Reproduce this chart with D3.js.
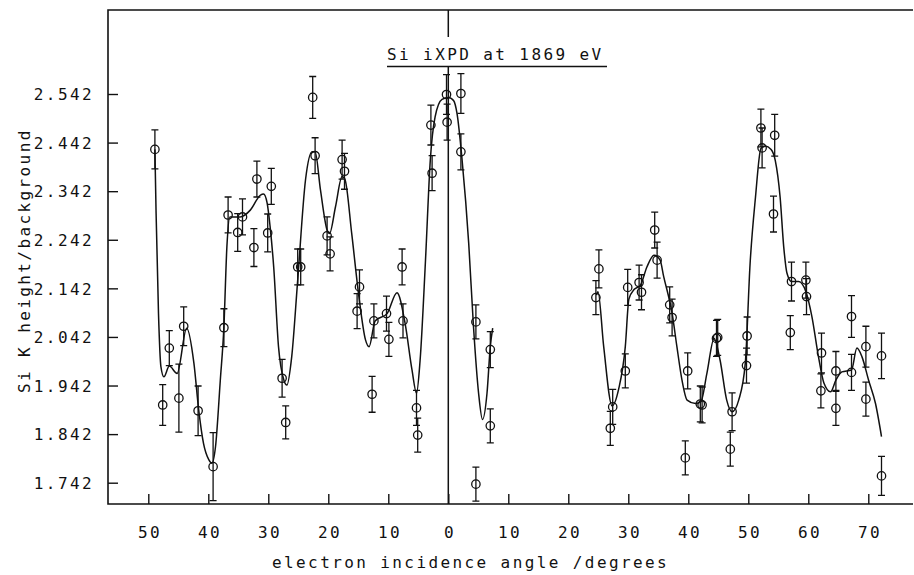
<!DOCTYPE html>
<html>
<head>
<meta charset="utf-8">
<script src="https://cdn.jsdelivr.net/npm/d3@7"></script>
<style>
body { margin: 0; background: #fff; }
svg { display: block; }
text { font-family: "DejaVu Sans Mono", monospace; font-size: 16px; letter-spacing: 2.4px; fill: #111; }
</style>
</head>
<body>
<svg id="chart" width="914" height="575"></svg>
<script>
// angles are signed: left branch negative, labels show absolute value
var pointAngle = [-48.9, -47.6, -46.5, -44.9, -44.1, -41.7, -39.2, -37.4, -36.7, -35.1, -34.3, -32.4, -31.9, -30.1, -29.5,
    -27.7, -27.1, -25.1, -24.6, -22.6, -22.2, -20.2, -19.7, -17.7, -17.3, -15.2, -14.8, -12.7, -12.4, -10.3, -9.9,
    -7.7, -7.55, -5.3, -5.1, -2.9, -2.7, -0.3, -0.2, 2.1, 2.1, 4.6, 4.6, 7.0, 7.0,
    24.6, 25.1, 27.0, 27.4, 29.5, 29.9, 31.8, 32.2, 34.4, 34.8, 36.9, 37.3, 39.5, 39.9, 42.0, 42.3, 44.7, 44.9,
    47.0, 47.3, 49.7, 49.8, 52.1, 52.3, 54.2, 54.4, 57.0, 57.2, 59.6, 59.7, 62.1, 62.2, 64.6, 64.6, 67.2, 67.2,
    69.6, 69.6, 72.2, 72.2];
var pointValue = [2.428, 1.902, 2.019, 1.916, 2.064, 1.890, 1.775, 2.061, 2.293, 2.257, 2.289, 2.226, 2.367, 2.256, 2.352,
    1.957, 1.866, 2.186, 2.186, 2.535, 2.415, 2.250, 2.213, 2.407, 2.383, 2.095, 2.145, 1.924, 2.075, 2.090, 2.037,
    2.186, 2.075, 1.896, 1.840, 2.478, 2.379, 2.541, 2.484, 2.543, 2.423, 2.073, 1.739, 2.016, 1.859,
    2.123, 2.182, 1.854, 1.898, 1.972, 2.144, 2.154, 2.134, 2.262, 2.200, 2.108, 2.082, 1.793, 1.972, 1.904, 1.902, 2.039, 2.041,
    1.811, 1.888, 1.983, 2.044, 2.472, 2.431, 2.295, 2.457, 2.051, 2.156, 2.159, 2.125, 1.931, 2.009, 1.972, 1.895, 2.084, 1.969,
    2.022, 1.914, 2.003, 1.756];
var pointError = [0.040, 0.042, 0.036, 0.070, 0.040, 0.051, 0.070, 0.039, 0.037, 0.039, 0.037, 0.039, 0.037, 0.039, 0.037,
    0.039, 0.034, 0.037, 0.037, 0.043, 0.037, 0.039, 0.035, 0.040, 0.037, 0.036, 0.035, 0.037, 0.035, 0.036, 0.035,
    0.037, 0.035, 0.036, 0.035, 0.041, 0.036, 0.041, 0.037, 0.041, 0.037, 0.035, 0.035, 0.037, 0.035,
    0.035, 0.039, 0.035, 0.036, 0.035, 0.037, 0.036, 0.036, 0.037, 0.037, 0.037, 0.038, 0.035, 0.037, 0.037, 0.037, 0.037, 0.037,
    0.035, 0.039, 0.036, 0.039, 0.039, 0.041, 0.037, 0.043, 0.035, 0.040, 0.037, 0.037, 0.035, 0.041, 0.040, 0.035, 0.043, 0.037,
    0.042, 0.035, 0.047, 0.040];

// fitted curve, two pieces
var fitLeftAngle = [-48.9, -48.7, -48.3, -47.9, -47.4, -46.5, -45.2, -43.6, -42.4, -41.6, -40.8, -39.9, -39.4, -38.8, -38.0,
    -37.4, -36.9, -36.4, -34.7, -33.0, -31.3, -30.8, -30.2, -29.7, -29.1, -28.3, -27.4, -26.9, -26.1, -25.1, -23.8,
    -22.7, -22.2, -21.3, -20.2, -19.8, -18.8, -17.7, -17.2, -16.1, -14.9, -13.8, -13.2, -12.2, -10.2, -8.55, -7.2,
    -6.05, -5.3, -4.7, -3.8, -3.0, -2.2, -1.05, 0.05, 0.9, 1.45, 2.3, 3.4, 4.2, 5.05, 5.7, 6.45, 7.0, 7.4];
var fitLeftValue = [2.428, 2.296, 2.090, 1.981, 1.960, 1.982, 1.967, 2.060, 1.988, 1.892, 1.823, 1.789, 1.782, 1.816, 1.953,
    2.063, 2.228, 2.289, 2.289, 2.303, 2.334, 2.336, 2.318, 2.269, 2.186, 2.022, 1.953, 1.943, 2.001, 2.159, 2.365,
    2.423, 2.423, 2.344, 2.262, 2.255, 2.310, 2.372, 2.365, 2.255, 2.125, 2.036, 2.022, 2.075, 2.090, 2.133, 2.070,
    1.974, 1.926, 1.994, 2.200, 2.406, 2.495, 2.531, 2.535, 2.528, 2.502, 2.406, 2.235, 2.063, 1.926, 1.872, 1.926, 2.022, 2.060];
var fitRightAngle = [24.7, 24.95, 25.9, 27.3, 28.4, 29.5, 30.1, 31.0, 32.0, 33.1, 34.3, 35.3, 35.9, 37.3, 38.1, 38.95,
    39.8, 41.2, 42.1, 43.1, 44.3, 45.3, 46.4, 47.3, 48.4, 49.5, 50.3, 51.2, 52.1, 52.8, 53.8, 54.5, 55.3, 55.9,
    56.45, 57.2, 58.4, 59.6, 60.6, 61.7, 62.6, 63.7, 64.6, 65.6, 67.2, 68.1, 68.95, 70.05, 71.2, 72.2];
var fitRightValue = [2.128, 2.135, 2.022, 1.900, 1.935, 2.022, 2.120, 2.140, 2.148, 2.186, 2.210, 2.200, 2.166, 2.091, 2.022, 1.953,
    1.912, 1.905, 1.909, 1.967, 2.039, 1.994, 1.912, 1.888, 1.912, 1.988, 2.193, 2.330, 2.430, 2.435, 2.428, 2.405, 2.330, 2.228,
    2.173, 2.156, 2.156, 2.135, 2.084, 2.001, 1.947, 1.929, 1.953, 1.970, 1.974, 2.019, 2.001, 1.953, 1.905, 1.837];

var xTicks = [-50, -40, -30, -20, -10, 0, 10, 20, 30, 40, 50, 60, 70];
var yTicks = [1.742, 1.842, 1.942, 2.042, 2.142, 2.242, 2.342, 2.442, 2.542];

var frame = {left: 108, top: 10, right: 913, bottom: 504};

var x = d3.scaleLinear().domain([-50, 70]).range([148.3, 868.3]);
var y = d3.scaleLinear().domain([1.742, 2.542]).range([482.7, 94]);

const svg = d3.select('#chart');

// frame (open on the right)
svg.append('path')
    .attr('d', `M${frame.right},${frame.top}H${frame.left}V${frame.bottom}H${frame.right}`)
    .attr('fill', 'none')
    .attr('stroke', '#111')
    .attr('stroke-width', 1.6);

// x axis
svg.append('g')
    .attr('transform', `translate(0,${frame.bottom})`)
    .call(d3.axisBottom(x).tickValues(xTicks).tickFormat(d => Math.abs(d)).tickSizeInner(-10).tickSizeOuter(0))
    .call(g => g.select('.domain').remove())
    .call(g => g.selectAll('line').attr('stroke', '#111').attr('stroke-width', 1.4))
    .selectAll('text')
    .attr('y', 34)
    .attr('dy', 0)
    .attr('dx', 1.2);

// y axis
svg.append('g')
    .attr('transform', `translate(${frame.left},0)`)
    .call(d3.axisLeft(y).tickValues(yTicks).tickFormat(d3.format('.3f')).tickSizeInner(-10).tickSizeOuter(0).tickPadding(14))
    .call(g => g.select('.domain').remove())
    .call(g => g.selectAll('line').attr('stroke', '#111').attr('stroke-width', 1.4))
    .selectAll('text')
    .attr('dy', '0.36em');

// zero line
svg.append('line')
    .attr('x1', x(0)).attr('x2', x(0))
    .attr('y1', frame.top).attr('y2', frame.bottom)
    .attr('stroke', '#111')
    .attr('stroke-width', 1.5);

// title box
svg.append('rect')
    .attr('x', 385).attr('y', 37)
    .attr('width', 224).attr('height', 29)
    .attr('fill', '#fff');
svg.append('text')
    .attr('x', 387).attr('y', 60)
    .text('Si iXPD at 1869 eV');
svg.append('line')
    .attr('x1', 387).attr('x2', 607)
    .attr('y1', 66.5).attr('y2', 66.5)
    .attr('stroke', '#111')
    .attr('stroke-width', 1.5);

// axis titles
svg.append('text')
    .attr('x', 272).attr('y', 568)
    .text('electron incidence angle /degrees');
svg.append('text')
    .attr('transform', 'translate(30,393) rotate(-90)')
    .text('Si K height/background');

// fitted curve
var fitLine = d3.line()
    .x(d => x(d[0]))
    .y(d => y(d[1]))
    .curve(d3.curveMonotoneX);

[[fitLeftAngle, fitLeftValue], [fitRightAngle, fitRightValue]].forEach(function(seg) {
    svg.append('path')
        .datum(seg[0].map((a, i) => [a, seg[1][i]]))
        .attr('d', fitLine)
        .attr('fill', 'none')
        .attr('stroke', '#111')
        .attr('stroke-width', 1.5);
});

// data points with error bars
var data = pointAngle.map((a, i) => ({a: a, v: pointValue[i], e: pointError[i]}));
var pts = svg.append('g')
    .attr('stroke', '#111')
    .attr('stroke-width', 1.3)
    .attr('fill', 'none')
    .selectAll('g')
    .data(data)
    .join('g');

pts.append('path')
    .attr('d', function(d) {
        var cx = x(d.a), y0 = y(d.v - d.e), y1 = y(d.v + d.e);
        return `M${cx},${y0}V${y1}M${cx - 3.5},${y0}H${cx + 3.5}M${cx - 3.5},${y1}H${cx + 3.5}`;
    });

pts.append('circle')
    .attr('cx', d => x(d.a))
    .attr('cy', d => y(d.v))
    .attr('r', 4.2);
</script>
</body>
</html>
